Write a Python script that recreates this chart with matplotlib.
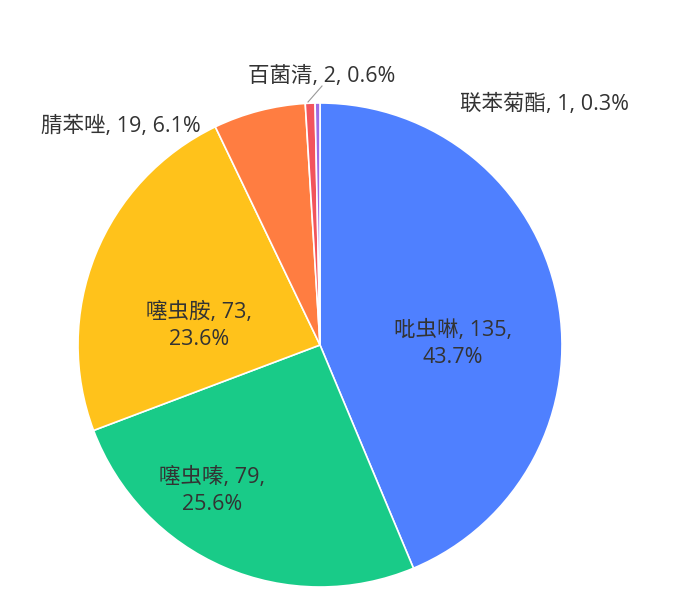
import matplotlib
matplotlib.use('Agg')
import matplotlib.pyplot as plt

plt.rcParams['font.family'] = ['Open Sans', 'Noto Sans CJK SC', 'DejaVu Sans']

# data
names = ['吡虫啉', '噻虫嗪', '噻虫胺', '腈苯唑', '百菌清', '联苯菊酯']
counts = [135, 79, 73, 19, 2, 1]
colors = ['#4F80FF', '#19CB88', '#FFC21B', '#FF7D41', '#F2545C', '#9D6BE4']

# label layout (pixels from top-left), and whether label wraps
label_pos = [(453, 344), (212, 491), (199, 326), (121, 126), (322, 76), (545, 104)]
wrap = [True, True, True, False, False, False]

W, H = 681, 611
cx, cy, R = 320, 345, 242

fig = plt.figure(figsize=(W / 100, H / 100), dpi=100)
ax = fig.add_axes([0, 0, 1, 1])

ax.pie(counts, colors=colors, startangle=90, counterclock=False,
       center=(cx, H - cy), radius=R,
       wedgeprops=dict(edgecolor='white', linewidth=1.2), frame=True)
ax.set_xlim(0, W)
ax.set_ylim(0, H)
ax.set_aspect('equal')
ax.axis('off')

total = sum(counts)
for i, (n, c) in enumerate(zip(names, counts)):
    pct = c / total * 100
    if wrap[i]:
        txt = '{}, {},\n{:.1f}%'.format(n, c, pct)
    else:
        txt = '{}, {}, {:.1f}%'.format(n, c, pct)
    x, y = label_pos[i]
    ax.text(x, H - y, txt, ha='center', va='center', fontsize=15.5,
            color='#333333', linespacing=1.38)

# leader line for the small slice
ax.plot([308, 322], [H - 102, H - 86], color='#999999', lw=0.8)

fig.savefig('out.png', dpi=100)
